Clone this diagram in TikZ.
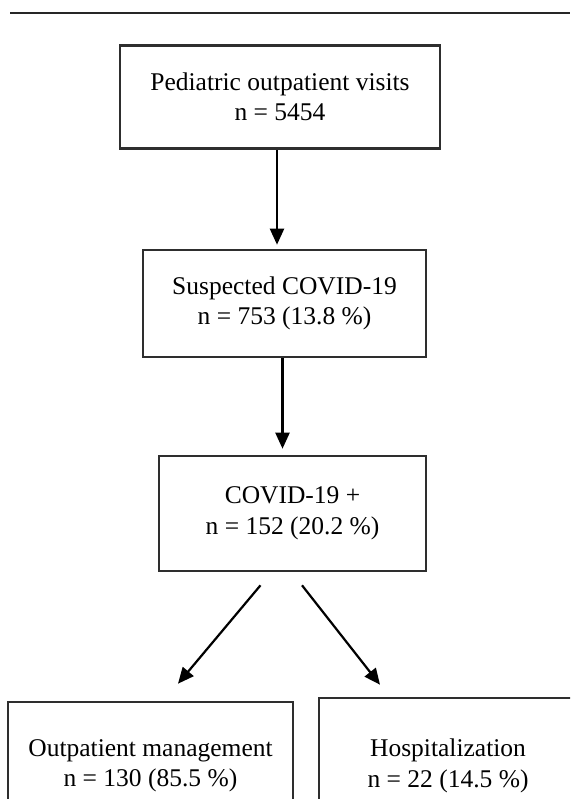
\documentclass[tikz,border=0pt]{standalone}
\usepackage{fontspec}
\setmainfont{Liberation Serif}
\usetikzlibrary{arrows.meta,calc}
\definecolor{boxline}{HTML}{2E2E2E}
\tikzset{
  flowbox/.style={draw=boxline, line width=2.6pt, fill=white, align=center, inner sep=0pt,
    font=\fontsize{25.5}{30.5}\selectfont},
  arr/.style={draw=black, line width=2.2pt, -{Triangle[length=16pt,width=14pt]}},
}
\begin{document}
\begin{tikzpicture}[x=1pt,y=-1pt]
\useasboundingbox (0,0) rectangle (570,799);
\clip (0,0) rectangle (570,799);
\fill[white] (0,0) rectangle (570,799);
\draw[line width=1.6pt, color=black!85] (10,13) coordinate (hl) -- (570,13) coordinate (hr);
\node[flowbox, minimum width=320pt, minimum height=103pt] (b1) at (280,97)
  {Pediatric outpatient visits\\ n = 5454};
\node[flowbox, minimum width=283pt, minimum height=107pt] (b2) at (284.5,303.5)
  {Suspected COVID-19\\ n = 753 (13.8 \%)};
\node[flowbox, minimum width=267pt, minimum height=115pt] (b3) at (292.5,513.5)
  {COVID-19 +\\ n = 152 (20.2 \%)};
\node[flowbox, minimum width=285pt, minimum height=128pt] (b4) at (150.5,766)
  {Outpatient management\\ n = 130 (85.5 \%)};
\node[flowbox, minimum width=258pt, minimum height=136pt] (b5) at (448,766)
  {Hospitalization\\ n = 22 (14.5 \%)};
\draw[arr, shorten >=4pt] ($(b1.south)+(-3,0)$) -- ($(b1.south |- b2.north)+(-3,0)$);
\draw[arr, shorten >=6pt] ($(b2.south)+(-2,0)$) -- ($(b2.south |- b3.north)+(-2,0)$);
\coordinate (l1) at ($(b3.south)+(-32,13)$);
\coordinate (l2) at ($(b4.north)+(27.5,-17)$);
\coordinate (r1) at ($(b3.south)+(9.5,13)$);
\coordinate (r2) at ($(b5.north)+(-68,-12)$);
\draw[arr] (l1) -- (l2);
\draw[arr] (r1) -- (r2);
\end{tikzpicture}
\end{document}
